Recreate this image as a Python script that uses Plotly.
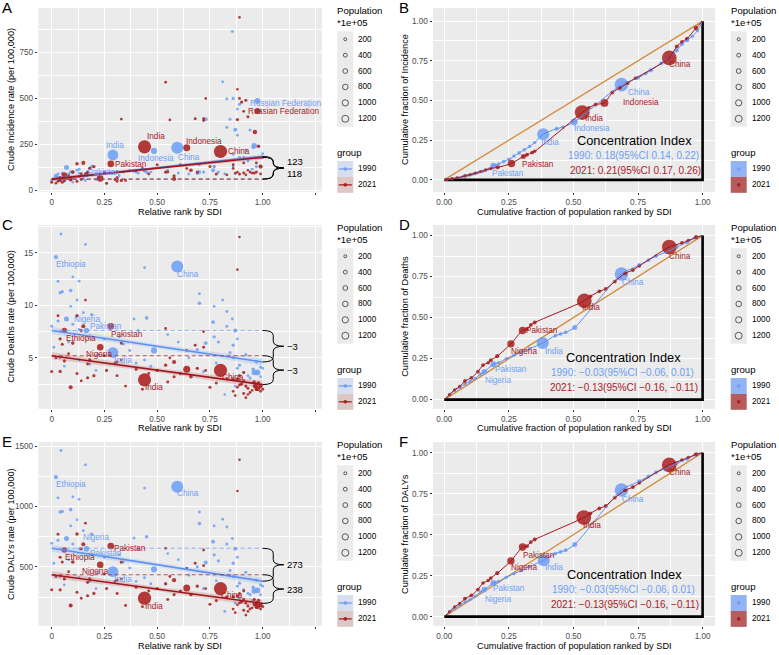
import math
import plotly.graph_objects as go

W, H = 779, 655
FONT = "Liberation Sans"
BLUE = "#6E9FF5"
RED = "#A8201F"
BLUE_LINE = "#5B8FF2"
RED_LINE = "#A0141A"
ORANGE = "#D58A3C"

# ---------------- data: relative SDI rank scatter (panels A, C, E) ----------------
# first seven entries of every list: Ethiopia, Nigeria, Pakistan, India, Indonesia, China, Russian Federation
named = ["Ethiopia", "Nigeria", "Pakistan", "India", "Indonesia", "China", "Russian Federation"]

rank_1990 = [0.02, 0.07, 0.165, 0.29, 0.485, 0.595, 0.975, 0.044, 0.16, 0.03,
             0.10, 0.13, 0.04, 0.05, 0.09, 0.12, 0.09, 0.19, 0.03, 0.0,
             0.10, 0.13, 0.04, 0.01, 0.13, 0.22, 0.18, 0.44, 0.39, 0.45,
             0.41, 0.34, 0.37, 0.44, 0.40, 0.70, 0.70, 0.77, 0.81, 0.765,
             0.856, 0.83, 0.87, 0.73, 0.77, 0.79, 0.86, 0.845, 0.96, 0.89,
             0.99, 1.00, 0.94, 0.87, 0.82, 0.86, 0.92, 0.97, 0.88, 0.91,
             0.955, 0.93, 0.89, 0.99, 0.72, 0.60, 0.65, 0.55, 0.25, 0.32,
             0.08, 0.15, 0.06, 0.21, 0.47, 0.69, 0.78, 0.86, 0.95, 0.83, 0.88]
pop_1990 = [480, 950, 1150, 8700, 1850, 11500, 1480, 50, 40, 60,
            30, 40, 150, 120, 250, 60, 50, 180, 80, 60,
            90, 70, 40, 50, 60, 150, 90, 40, 60, 220,
            80, 50, 70, 60, 50, 60, 250, 40, 50, 300,
            60, 70, 400, 350, 120, 100, 150, 80, 1230, 100,
            60, 40, 80, 50, 30, 70, 90, 100, 60, 50,
            200, 40, 40, 30, 90, 40, 50, 30, 70, 40,
            70, 50, 30, 40, 60, 80, 60, 50, 60, 80, 50]
incidence_1990 = [80, 125, 88, 193, 215, 232, 486, 60, 55, 70,
                  45, 95, 62, 95, 100, 110, 60, 130, 90, 55,
                  100, 115, 70, 60, 75, 70, 120, 110, 105, 100,
                  95, 100, 110, 105, 100, 140, 100, 130, 590, 110,
                  863, 497, 330, 387, 130, 100, 500, 387, 243, 468,
                  430, 200, 329, 92, 90, 197, 220, 130, 300, 180,
                  235, 160, 180, 133, 100, 95, 90, 110, 95, 80,
                  90, 65, 50, 60, 100, 92, 190, 133, 116, 343, 442]
deaths_1990 = [14.6, 8.7, 7.6, 5.5, 5.7, 13.7, 3.6, 16.8, 15.8, 12.3,
               12.7, 12.3, 11.2, 11.3, 11.4, 10.5, 9.9, 9.1, 8.5, 8.0,
               8.2, 7.7, 5.0, 6.0, 4.8, 5.3, 4.4, 13.6, 8.7, 8.8,
               7.6, 6.3, 5.7, 4.8, 4.5, 11.1, 10.2, 9.9, 10.5, 8.4,
               8.7, 9.4, 7.6, 6.4, 7.0, 6.5, 6.2, 5.5, 3.6, 4.3,
               4.1, 4.0, 3.1, 2.3, 1.5, 5.0, 5.3, 4.6, 4.0, 3.6,
               3.9, 3.3, 2.8, 3.2, 3.7, 6.5, 5.0, 7.2, 6.8, 7.0,
               6.5, 9.3, 4.2, 3.8, 4.2, 5.8, 4.5, 3.0, 2.6, 8.0, 6.8]
dalys_1990 = [1245, 735, 650, 460, 480, 1165, 305, 1465, 1346, 1072,
              1080, 1060, 955, 960, 975, 890, 840, 770, 720, 695,
              690, 650, 420, 530, 410, 450, 380, 1154, 740, 750,
              650, 540, 490, 410, 380, 955, 860, 840, 895, 709,
              735, 830, 650, 536, 600, 550, 530, 470, 300, 365,
              350, 340, 270, 200, 130, 420, 455, 390, 340, 310,
              330, 280, 240, 270, 320, 560, 430, 610, 580, 600,
              560, 800, 350, 320, 360, 500, 385, 255, 220, 690, 580]

rank_2021 = [0.06, 0.23, 0.28, 0.44, 0.64, 0.80, 0.975, 0.12, 0.15, 0.16,
             0.89, 0.88, 0.03, 0.04, 0.05, 0.10, 0.14, 0.54, 0.04, 0.0,
             0.09, 0.12, 0.17, 0.14, 0.20, 0.18, 0.17, 0.31, 0.33, 0.33,
             0.30, 0.35, 0.40, 0.31, 0.50, 0.54, 0.58, 0.61, 0.55, 0.58,
             0.69, 0.66, 0.73, 0.72, 0.68, 0.72, 0.75, 0.56, 0.88, 0.90,
             0.92, 0.963, 0.99, 0.98, 0.94, 0.91, 0.93, 0.86, 0.89, 0.91,
             0.96, 1.0, 0.97, 0.92, 0.87, 0.83, 0.78, 0.25, 0.08, 0.02,
             0.46, 0.64, 0.43, 0.26, 0.06, 0.89, 0.91, 0.95, 0.86, 0.97, 0.99, 0.93, 0.88]
pop_2021 = [1260, 2230, 2400, 14200, 2750, 14100, 1450, 200, 400, 40,
            15, 15, 60, 100, 80, 250, 120, 40, 120, 80,
            400, 80, 100, 50, 120, 100, 60, 60, 40, 120,
            50, 60, 80, 70, 80, 150, 450, 100, 70, 90,
            120, 250, 20, 60, 70, 40, 80, 40, 120, 150,
            100, 600, 500, 200, 60, 70, 80, 50, 80, 60,
            100, 60, 80, 40, 40, 60, 100, 60, 40, 30,
            50, 40, 60, 80, 100, 60, 50, 40, 40, 50, 40, 30, 30]
incidence_2021 = [85, 65, 145, 237, 232, 212, 432, 145, 150, 90,
                  940, 550, 50, 70, 45, 100, 90, 588, 55, 45,
                  60, 50, 100, 60, 130, 120, 90, 50, 388, 55,
                  60, 55, 110, 70, 140, 100, 63, 140, 100, 80,
                  100, 110, 500, 390, 390, 380, 130, 383, 385, 480,
                  490, 318, 130, 240, 100, 95, 400, 120, 90, 150,
                  95, 180, 100, 85, 95, 85, 90, 100, 80, 40,
                  90, 120, 120, 40, 55, 500, 430, 95, 140, 150, 90, 110, 100]
deaths_2021 = [7.6, 6.0, 8.0, 2.9, 3.9, 3.8, 2.1, 9.0, 8.0, 10.5,
               16.5, 13.4, 9.0, 6.8, 6.3, 6.4, 7.6, 7.8, 3.7, 3.7,
               2.2, 3.5, 3.1, 2.8, 3.3, 4.8, 4.4, 4.6, 4.8, 6.4,
               4.5, 2.3, 3.9, 3.3, 3.8, 4.3, 4.6, 3.5, 2.7, 3.2,
               4.0, 3.2, 3.8, 6.0, 6.2, 7.5, 2.2, 5.0, 3.0, 2.5,
               2.3, 2.3, 2.3, 2.6, 1.7, 1.6, 2.1, 2.9, 3.3, 3.6,
               2.7, 2.0, 2.0, 1.2, 1.4, 3.0, 2.6, 5.2, 5.4, 5.0,
               3.5, 5.7, 2.0, 3.8, 4.7, 2.4, 2.8, 1.9, 1.8, 2.5, 1.8, 1.5, 2.2]
dalys_2021 = [640, 517, 673, 240, 324, 320, 175, 772, 687, 862,
              1388, 1129, 770, 580, 540, 540, 650, 654, 310, 310,
              180, 290, 260, 240, 280, 400, 370, 390, 400, 540,
              380, 180, 330, 280, 320, 360, 390, 300, 230, 270,
              340, 270, 320, 510, 530, 640, 190, 420, 260, 210,
              200, 190, 180, 220, 150, 140, 175, 250, 280, 300,
              230, 170, 165, 100, 120, 250, 220, 440, 460, 420,
              300, 490, 170, 320, 400, 200, 230, 160, 150, 205, 150, 130, 185]

# fitted regression line values at rank 0 and rank 1
fit_incidence_1990 = [62, 185]
fit_incidence_2021 = [62, 180]
fit_deaths_1990 = [7.6, 4.6]
fit_deaths_2021 = [5.2, 2.45]
fit_dalys_1990 = [654, 381]
fit_dalys_2021 = [435, 197]
# half width of the confidence band at rank 0, 0.5, 1
band_incidence = [12, 7, 12]
band_deaths = [0.35, 0.2, 0.35]
band_dalys = [30, 17, 30]
# slope index labels (1990, 2021)
sii_incidence = ["123", "118"]
sii_deaths = ["\u22123", "\u22123"]
sii_dalys = ["273", "238"]

# ---------------- data: concentration curves (panels B, D, F) ----------------
conc_inc_x_1990 = [0.01, 0.03, 0.05, 0.07, 0.09, 0.11, 0.13, 0.15, 0.17, 0.19,
                   0.21, 0.23, 0.25, 0.27, 0.29, 0.31, 0.33, 0.35, 0.383, 0.435,
                   0.46, 0.503, 0.686, 0.75, 0.78, 0.80, 0.84, 0.87, 0.90, 0.92,
                   0.94, 0.96, 0.98]
conc_inc_y_1990 = [0.003, 0.008, 0.014, 0.02, 0.028, 0.036, 0.045, 0.055, 0.068, 0.09,
                   0.10, 0.115, 0.13, 0.15, 0.17, 0.19, 0.21, 0.235, 0.288, 0.322,
                   0.333, 0.365, 0.60, 0.643, 0.67, 0.69, 0.735, 0.77, 0.815, 0.855,
                   0.88, 0.905, 0.94]
conc_inc_pop_1990 = [30, 40, 60, 50, 80, 60, 70, 100, 90, 1150,
                     80, 120, 90, 100, 150, 120, 100, 80, 8700, 200,
                     150, 1850, 11500, 200, 120, 300, 200, 150, 250, 150,
                     300, 100, 80]
conc_inc_lab_1990 = {"Pakistan": 9, "India": 18, "Indonesia": 21, "China": 22}

conc_inc_x_2021 = [0.01, 0.03, 0.05, 0.08, 0.10, 0.12, 0.14, 0.16, 0.18, 0.207,
                   0.26, 0.306, 0.32, 0.34, 0.35, 0.534, 0.56, 0.586, 0.62, 0.65,
                   0.68, 0.71, 0.74, 0.871, 0.90, 0.92, 0.94, 0.974]
conc_inc_y_2021 = [0.003, 0.008, 0.013, 0.025, 0.033, 0.042, 0.052, 0.062, 0.072, 0.079,
                   0.104, 0.148, 0.158, 0.172, 0.18, 0.424, 0.455, 0.475, 0.485, 0.55,
                   0.58, 0.61, 0.64, 0.768, 0.84, 0.87, 0.89, 0.956]
conc_inc_pop_2021 = [40, 60, 80, 150, 100, 120, 80, 100, 120, 300,
                     2400, 600, 200, 150, 100, 14200, 100, 200, 2750, 200,
                     150, 200, 100, 14100, 200, 150, 200, 400]
conc_inc_lab_2021 = {"Pakistan": 10, "India": 15, "Indonesia": 18, "China": 23}

conc_pop_1990 = [40, 50, 60, 80, 100, 60, 80, 950, 1150, 100,
                 80, 100, 80, 100, 8700, 150, 150, 150, 600, 11500,
                 300, 150, 200, 150, 200, 150, 100]
conc_pop_2021 = [40, 60, 80, 200, 150, 150, 120, 100, 150, 300,
                 2230, 2400, 200, 150, 200, 14200, 150, 150, 200, 150,
                 150, 200, 100, 14100, 150, 100, 300]
conc_lab_1990 = {"Nigeria": 7, "Pakistan": 8, "India": 14, "China": 19}
conc_lab_2021 = {"Nigeria": 10, "Pakistan": 11, "India": 15, "China": 23}

conc_death_x_1990 = [0.02, 0.04, 0.06, 0.08, 0.10, 0.12, 0.14, 0.155, 0.19, 0.21,
                     0.24, 0.27, 0.30, 0.33, 0.381, 0.43, 0.45, 0.47, 0.505, 0.686,
                     0.755, 0.79, 0.82, 0.86, 0.90, 0.94, 0.97]
conc_death_y_1990 = [0.03, 0.055, 0.075, 0.095, 0.11, 0.13, 0.155, 0.17, 0.215, 0.225,
                     0.25, 0.27, 0.29, 0.31, 0.345, 0.39, 0.40, 0.41, 0.44, 0.766,
                     0.82, 0.85, 0.875, 0.90, 0.93, 0.96, 0.985]
conc_death_x_2021 = [0.02, 0.04, 0.06, 0.08, 0.105, 0.13, 0.15, 0.17, 0.18, 0.205,
                     0.258, 0.303, 0.32, 0.335, 0.35, 0.542, 0.566, 0.60, 0.625, 0.66,
                     0.70, 0.73, 0.755, 0.871, 0.92, 0.945, 0.975]
conc_death_y_2021 = [0.03, 0.06, 0.08, 0.113, 0.133, 0.17, 0.21, 0.225, 0.24, 0.265,
                     0.34, 0.422, 0.43, 0.455, 0.47, 0.602, 0.63, 0.66, 0.675, 0.72,
                     0.77, 0.79, 0.815, 0.93, 0.955, 0.97, 0.99]

conc_daly_x_1990 = [0.02, 0.04, 0.06, 0.08, 0.10, 0.12, 0.14, 0.155, 0.19, 0.21,
                    0.24, 0.27, 0.30, 0.33, 0.385, 0.43, 0.45, 0.47, 0.505, 0.686,
                    0.755, 0.79, 0.82, 0.86, 0.90, 0.94, 0.97]
conc_daly_y_1990 = [0.03, 0.05, 0.07, 0.09, 0.105, 0.125, 0.15, 0.165, 0.205, 0.215,
                    0.24, 0.262, 0.283, 0.305, 0.344, 0.385, 0.395, 0.405, 0.44, 0.772,
                    0.825, 0.855, 0.88, 0.905, 0.935, 0.962, 0.985]
conc_daly_x_2021 = [0.02, 0.04, 0.06, 0.08, 0.105, 0.13, 0.15, 0.17, 0.18, 0.205,
                    0.258, 0.303, 0.32, 0.335, 0.35, 0.54, 0.566, 0.60, 0.625, 0.66,
                    0.70, 0.73, 0.755, 0.871, 0.92, 0.945, 0.975]
conc_daly_y_2021 = [0.03, 0.06, 0.08, 0.11, 0.13, 0.165, 0.205, 0.22, 0.235, 0.265,
                    0.34, 0.424, 0.43, 0.455, 0.47, 0.604, 0.63, 0.66, 0.675, 0.725,
                    0.77, 0.79, 0.815, 0.925, 0.955, 0.97, 0.99]

ci_incidence = ["1990: 0.18(95%CI 0.14, 0.22)", "2021: 0.21(95%CI 0.17, 0.26)"]
ci_deaths = ["1990: \u22120.03(95%CI \u22120.06, 0.01)", "2021: \u22120.13(95%CI \u22120.16, \u22120.11)"]
ci_dalys = ["1990: \u22120.03(95%CI \u22120.06, 0.01)", "2021: \u22120.13(95%CI \u22120.16, \u22120.11)"]

legend_breaks = [200, 400, 600, 800, 1000, 1200]
years = ["1990", "2021"]

# ---------------- layout geometry (pixels) ----------------
ROWS = [0.0, 218.3, 436.7]
PT, PB = 8.0, 193.0
LX = (38.3, 322.0)
RX = (433.0, 715.0)
LEFT_XR = [-0.0635, 1.281]
RIGHT_XR = [-0.0437, 1.048]

panels = {
    1: dict(row=0, side="L", yr=[-7, 991], yt=[0, 250, 500, 750], ytt=["0", "250", "500", "750"],
            ym=[125, 375, 625, 875], title="Crude Incidence rate (per 100,000)", letter="A"),
    2: dict(row=0, side="R", yr=[-0.075, 1.083], title="Cumulative fraction of Incidence", letter="B"),
    3: dict(row=1, side="L", yr=[0.14, 17.66], yt=[5, 10, 15], ytt=["5", "10", "15"],
            ym=[2.5, 7.5, 12.5, 17.5], title="Crude Deaths rate (per 100,000)", letter="C"),
    4: dict(row=1, side="R", yr=[-0.056, 1.065], title="Cumulative fraction of Deaths", letter="D"),
    5: dict(row=2, side="L", yr=[10.7, 1536], yt=[500, 1000, 1500], ytt=["500", "1000", "1500"],
            ym=[250, 750, 1250], title="Crude DALYs rate (per 100,000)", letter="E"),
    6: dict(row=2, side="R", yr=[-0.056, 1.065], title="Cumulative fraction of DALYs", letter="F"),
}


def names(i):
    return ("x" if i == 1 else f"x{i}", "y" if i == 1 else f"y{i}")


def PX(x):
    return x / W


def PY(y):
    return 1 - y / H


def dsize(pops, k=1.0):
    return [k * 2.2 * (1 + 5 * math.sqrt(v / 14200.0)) for v in pops]


fig = go.Figure()
annotations = []
shapes = []
layout_axes = {}

tickfont = dict(family=FONT, size=8.2, color="#4D4D4D")
for i, p in panels.items():
    o = ROWS[p["row"]]
    xn, yn = names(i)
    x0, x1 = LX if p["side"] == "L" else RX
    common = dict(showgrid=True, gridcolor="white", gridwidth=1.1, zeroline=False, showline=False,
                  ticks="outside", ticklen=2.5, tickwidth=0.8, tickcolor="#333333", tickfont=tickfont,
                  tickmode="array", fixedrange=True)
    if p["side"] == "L":
        xa = dict(common, domain=[PX(x0), PX(x1)], range=LEFT_XR, anchor=yn,
                  tickvals=[0, 0.25, 0.5, 0.75, 1.0, 1.25], ticktext=["0", "0.25", "0.50", "0.75", "1.00", ""],
                  minor=dict(tickmode="array", tickvals=[0.125, 0.375, 0.625, 0.875, 1.125], showgrid=True,
                             gridcolor="white", gridwidth=0.5, ticks=""))
        ya = dict(common, domain=[PY(o + PB), PY(o + PT)], range=p["yr"], anchor=xn,
                  tickvals=p["yt"], ticktext=p["ytt"],
                  minor=dict(tickmode="array", tickvals=p["ym"], showgrid=True, gridcolor="white",
                             gridwidth=0.5, ticks=""))
        xtitle = "Relative rank by SDI"
        ytx = 11
    else:
        q = [0, 0.25, 0.5, 0.75, 1.0]
        qt = ["0.00", "0.25", "0.50", "0.75", "1.00"]
        mq = [0.125, 0.375, 0.625, 0.875]
        xa = dict(common, domain=[PX(x0), PX(x1)], range=RIGHT_XR, anchor=yn, tickvals=q, ticktext=qt,
                  minor=dict(tickmode="array", tickvals=mq, showgrid=True, gridcolor="white", gridwidth=0.5, ticks=""))
        ya = dict(common, domain=[PY(o + PB), PY(o + PT)], range=p["yr"], anchor=xn, tickvals=q, ticktext=qt,
                  minor=dict(tickmode="array", tickvals=mq, showgrid=True, gridcolor="white", gridwidth=0.5, ticks=""))
        xtitle = "Cumulative fraction of population ranked by SDI"
        ytx = 405
    layout_axes["xaxis" if i == 1 else f"xaxis{i}"] = xa
    layout_axes["yaxis" if i == 1 else f"yaxis{i}"] = ya
    # axis titles
    annotations.append(dict(text=xtitle, x=PX((x0 + x1) / 2), y=PY(o + 212.8), xref="paper", yref="paper",
                            showarrow=False, xanchor="center", yanchor="middle", borderpad=0,
                            font=dict(family=FONT, size=9.2, color="black")))
    annotations.append(dict(text=p["title"], x=PX(ytx), y=PY(o + (PT + PB) / 2), xref="paper", yref="paper",
                            showarrow=False, textangle=-90, xanchor="center", yanchor="middle", borderpad=0,
                            font=dict(family=FONT, size=9.2, color="black")))
    # panel letter
    lx = 1 if p["side"] == "L" else 398
    annotations.append(dict(text=p["letter"], x=PX(lx), y=PY(o + 8), xref="paper", yref="paper",
                            showarrow=False, xanchor="left", yanchor="middle", borderpad=0,
                            font=dict(family=FONT, size=15, color="black")))


def pix_per_unit(i):
    p = panels[i]
    return (PB - PT) / (p["yr"][1] - p["yr"][0])


def scatter_panel(i, y90, y21, fit90, fit21, band, sii, offs, label_names):
    xn, yn = names(i)
    for xs, ys, pops, col in ((rank_1990, y90, pop_1990, BLUE), (rank_2021, y21, pop_2021, RED)):
        fig.add_trace(go.Scatter(x=xs, y=ys, mode="markers", xaxis=xn, yaxis=yn, hoverinfo="skip",
                                 marker=dict(size=dsize(pops), color=col, opacity=0.88, line=dict(width=0))))
    bx = [0, 0.5, 1.0]
    for fit, col, lcol, fcol in ((fit90, BLUE, BLUE_LINE, "rgba(110,159,245,0.22)"),
                                 (fit21, RED, RED_LINE, "rgba(168,32,31,0.18)")):
        line_vals = [fit[0] + (fit[1] - fit[0]) * v for v in bx]
        fig.add_trace(go.Scatter(x=bx, y=[a - b for a, b in zip(line_vals, band)], mode="lines", xaxis=xn,
                                 yaxis=yn, line=dict(width=0), hoverinfo="skip"))
        fig.add_trace(go.Scatter(x=bx, y=[a + b for a, b in zip(line_vals, band)], mode="lines", xaxis=xn,
                                 yaxis=yn, line=dict(width=0), fill="tonexty", fillcolor=fcol, hoverinfo="skip"))
        fig.add_trace(go.Scatter(x=[0, 1], y=fit, mode="lines", xaxis=xn, yaxis=yn, hoverinfo="skip",
                                 line=dict(color=lcol, width=1.6)))
        fig.add_trace(go.Scatter(x=[0, 1], y=[fit[0], fit[0]], mode="lines", xaxis=xn, yaxis=yn, hoverinfo="skip",
                                 line=dict(color=col, width=1.1, dash="4px,3px"), opacity=0.75))
    # braces
    ppu = pix_per_unit(i)
    for k, fit in enumerate((fit90, fit21)):
        yt, yb = max(fit), min(fit)
        ym = (yt + yb) / 2
        r = min(5.0 / ppu, (yt - yb) / 4)
        x0, xb, xt = 1.0, 1.05, 1.10
        path = (f"M {x0},{yt} Q {xb},{yt} {xb},{yt - r} L {xb},{ym + r} Q {xb},{ym} {xt},{ym} "
                f"Q {xb},{ym} {xb},{ym - r} L {xb},{yb + r} Q {xb},{yb} {x0},{yb}")
        shapes.append(dict(type="path", path=path, xref=xn, yref=yn, line=dict(color="black", width=1)))
        ysh = 0
        if i == 1:
            ysh = 6 if k == 0 else -5
        annotations.append(dict(text=sii[k], x=1.11, y=ym, xref=xn, yref=yn, showarrow=False,
                                xanchor="left", yanchor="middle", yshift=ysh, borderpad=0,
                                font=dict(family=FONT, size=9.5, color="black")))
    # country labels
    for (xs, ys, col, off) in ((rank_1990, y90, BLUE, offs[0]), (rank_2021, y21, RED, offs[1])):
        for nm in label_names:
            idx = named.index(nm)
            dx, dy = off[nm]
            annotations.append(dict(text=nm, x=xs[idx], y=ys[idx], xref=xn, yref=yn, showarrow=False,
                                    xanchor="center", yanchor="middle", xshift=dx, yshift=-dy, borderpad=0,
                                    font=dict(family=FONT, size=8.2, color=col)))


def conc_panel(i, x90, y90, p90, lab90, x21, y21, p21, lab21, offs, ci_text, cx):
    xn, yn = names(i)
    o = ROWS[panels[i]["row"]]
    fig.add_trace(go.Scatter(x=[0, 1], y=[0, 1], mode="lines", xaxis=xn, yaxis=yn, hoverinfo="skip",
                             line=dict(color=ORANGE, width=1.3)))
    fig.add_trace(go.Scatter(x=[0, 1, 1], y=[0, 0, 1], mode="lines", xaxis=xn, yaxis=yn, hoverinfo="skip",
                             line=dict(color="black", width=2.6)))
    for xs, ys, pops, col in ((x90, y90, p90, BLUE), (x21, y21, p21, RED)):
        fig.add_trace(go.Scatter(x=xs, y=ys, mode="markers", xaxis=xn, yaxis=yn, hoverinfo="skip",
                                 marker=dict(size=dsize(pops, 1.12), color=col, opacity=0.85, line=dict(width=0))))
    for xs, ys, col in ((x90, y90, BLUE_LINE), (x21, y21, RED_LINE)):
        fig.add_trace(go.Scatter(x=[0] + xs + [1], y=[0] + ys + [1], mode="lines", xaxis=xn, yaxis=yn,
                                 hoverinfo="skip", line=dict(color=col, width=1, shape="spline", smoothing=0.7)))
    for xs, ys, labs, col, off in ((x90, y90, lab90, BLUE, offs[0]), (x21, y21, lab21, RED, offs[1])):
        for nm, idx in labs.items():
            dx, dy = off[nm]
            annotations.append(dict(text=nm, x=xs[idx], y=ys[idx], xref=xn, yref=yn, showarrow=False,
                                    xanchor="center", yanchor="middle", xshift=dx, yshift=-dy, borderpad=0,
                                    font=dict(family=FONT, size=8.2, color=col)))
    annotations.append(dict(text="Concentration Index", x=PX(cx), y=PY(o + 141.7), xref="paper", yref="paper",
                            showarrow=False, xanchor="center", yanchor="middle", borderpad=0,
                            font=dict(family=FONT, size=12.8, color="black")))
    annotations.append(dict(text=ci_text[0], x=PX(cx - 1), y=PY(o + 156.5), xref="paper", yref="paper",
                            showarrow=False, xanchor="center", yanchor="middle", borderpad=0,
                            font=dict(family=FONT, size=10, color=BLUE)))
    annotations.append(dict(text=ci_text[1], x=PX(cx + 1), y=PY(o + 172), xref="paper", yref="paper",
                            showarrow=False, xanchor="center", yanchor="middle", borderpad=0,
                            font=dict(family=FONT, size=10, color=RED)))


offs_A = ({"India": (2, -9), "Indonesia": (2, 7.5), "China": (12, 10), "Pakistan": (17, -2),
           "Russian Federation": (28, 3)},
          {"India": (11.5, -10.5), "Pakistan": (20, 1), "Indonesia": (17, -6), "China": (18, 0),
           "Russian Federation": (26, 1)})
offs_C = ({"Ethiopia": (15, 7.5), "China": (11, 8), "Nigeria": (21, 1), "Pakistan": (19.5, -4), "India": (10, 8)},
          {"Ethiopia": (17, 8), "Nigeria": (-1.5, 7), "Pakistan": (16, 8), "India": (9.5, 8), "China": (12, 7)})
offs_E = ({"Ethiopia": (15, 7.5), "China": (11, 7), "Nigeria": (30, -1), "Pakistan": (19.5, 5), "India": (10, 7.5)},
          {"Ethiopia": (16, 7.5), "Nigeria": (-5, 7), "Pakistan": (19, 2), "India": (9.5, 8), "China": (11, 7)})
offs_B = ({"Pakistan": (15, 8), "India": (7, 8), "Indonesia": (18, 7), "China": (18, 8)},
          {"Pakistan": (27, 1), "India": (12, 6), "Indonesia": (37, 0), "China": (11, 7)})
offs_D = ({"Nigeria": (14, 9), "Pakistan": (18, 5), "India": (11, 8), "China": (12, 9)},
          {"Nigeria": (13, 7.5), "Pakistan": (19, 0), "India": (7, 7), "China": (11, 9)})
offs_F = ({"Nigeria": (14, 9.5), "Pakistan": (16, 5.5), "India": (10, 7), "China": (12, 9)},
          {"Nigeria": (13, 7), "Pakistan": (16, 8), "India": (8, 8), "China": (11, 7.5)})

scatter_panel(1, incidence_1990, incidence_2021, fit_incidence_1990, fit_incidence_2021, band_incidence,
              sii_incidence, offs_A, ["India", "Indonesia", "China", "Pakistan", "Russian Federation"])
scatter_panel(3, deaths_1990, deaths_2021, fit_deaths_1990, fit_deaths_2021, band_deaths,
              sii_deaths, offs_C, ["Ethiopia", "Nigeria", "Pakistan", "India", "China"])
scatter_panel(5, dalys_1990, dalys_2021, fit_dalys_1990, fit_dalys_2021, band_dalys,
              sii_dalys, offs_E, ["Ethiopia", "Nigeria", "Pakistan", "India", "China"])

conc_panel(2, conc_inc_x_1990, conc_inc_y_1990, conc_inc_pop_1990, conc_inc_lab_1990,
           conc_inc_x_2021, conc_inc_y_2021, conc_inc_pop_2021, conc_inc_lab_2021, offs_B, ci_incidence, 634)
conc_panel(4, conc_death_x_1990, conc_death_y_1990, conc_pop_1990, conc_lab_1990,
           conc_death_x_2021, conc_death_y_2021, conc_pop_2021, conc_lab_2021, offs_D, ci_deaths, 623)
conc_panel(6, conc_daly_x_1990, conc_daly_y_1990, conc_pop_1990, conc_lab_1990,
           conc_daly_x_2021, conc_daly_y_2021, conc_pop_2021, conc_lab_2021, offs_F, ci_dalys, 624)

# ---------------- legends (drawn manually) ----------------
legend_diam = [3.0, 3.9, 4.8, 5.6, 6.3, 7.0]


def draw_legend(X, o, filled):
    tf = dict(family=FONT, size=9.6, color="black")
    lf = dict(family=FONT, size=8.2, color="black")
    annotations.append(dict(text="Population", x=PX(X - 1), y=PY(o + 10.7), xref="paper", yref="paper",
                            showarrow=False, xanchor="left", yanchor="middle", borderpad=0, font=tf))
    annotations.append(dict(text="*1e+05", x=PX(X - 1), y=PY(o + 22.3), xref="paper", yref="paper",
                            showarrow=False, xanchor="left", yanchor="middle", borderpad=0, font=tf))
    shapes.append(dict(type="rect", xref="paper", yref="paper", x0=PX(X), x1=PX(X + 16),
                       y0=PY(o + 127.5), y1=PY(o + 31.5), fillcolor="#EBEBEB", line=dict(width=0), layer="below"))
    for k, (b, d) in enumerate(zip(legend_breaks, legend_diam)):
        cy = o + 39.5 + 16 * k
        cx = X + 8
        r = d / 2
        shapes.append(dict(type="circle", xref="paper", yref="paper", x0=PX(cx - r), x1=PX(cx + r),
                           y0=PY(cy + r), y1=PY(cy - r), line=dict(color="#333333", width=0.8)))
        annotations.append(dict(text=str(b), x=PX(X + 20), y=PY(cy), xref="paper", yref="paper",
                                showarrow=False, xanchor="left", yanchor="middle", borderpad=0, font=lf))
    annotations.append(dict(text="group", x=PX(X - 1), y=PY(o + 153), xref="paper", yref="paper",
                            showarrow=False, xanchor="left", yanchor="middle", borderpad=0, font=tf))
    if filled:
        boxes = ["#93B4F3", "#B65C5C"]
    else:
        boxes = ["#D7DFEF", "#DCC6C6"]
    for k, (yr, col, bc) in enumerate(zip(years, [BLUE, RED], boxes)):
        top = o + 162 + 16 * k
        shapes.append(dict(type="rect", xref="paper", yref="paper", x0=PX(X), x1=PX(X + 16),
                           y0=PY(top + 16), y1=PY(top), fillcolor=bc, line=dict(width=0)))
        cy = top + 8
        if not filled:
            shapes.append(dict(type="line", xref="paper", yref="paper", x0=PX(X + 1.5), x1=PX(X + 14.5),
                               y0=PY(cy), y1=PY(cy), line=dict(color=col, width=1.3)))
        r = 1.8
        shapes.append(dict(type="circle", xref="paper", yref="paper", x0=PX(X + 8 - r), x1=PX(X + 8 + r),
                           y0=PY(cy + r), y1=PY(cy - r), fillcolor=col, line=dict(width=0)))
        annotations.append(dict(text=yr, x=PX(X + 20), y=PY(cy), xref="paper", yref="paper",
                                showarrow=False, xanchor="left", yanchor="middle", borderpad=0, font=lf))


for o in ROWS:
    draw_legend(337.3, o, False)
    draw_legend(730.7, o, True)

fig.update_layout(
    width=W, height=H, autosize=False,
    margin=dict(l=0, r=0, t=0, b=0),
    paper_bgcolor="white", plot_bgcolor="#EBEBEB",
    showlegend=False,
    font=dict(family=FONT, size=9, color="black"),
    annotations=annotations, shapes=shapes,
    **layout_axes,
)

fig.write_html("out.html")
